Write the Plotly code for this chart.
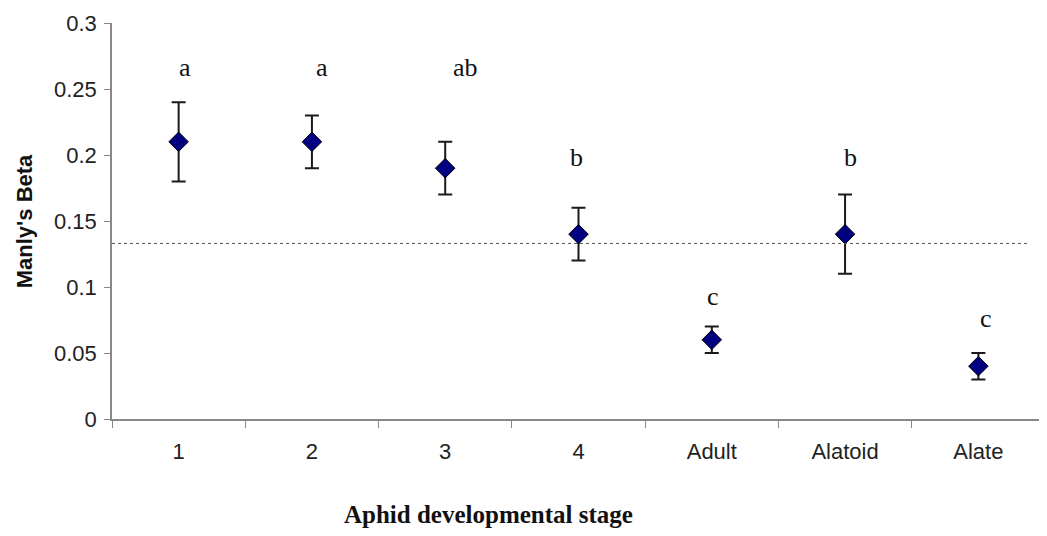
import plotly.graph_objects as go

stages = ["1", "2", "3", "4", "Adult", "Alatoid", "Alate"]
beta = [0.21, 0.21, 0.19, 0.14, 0.06, 0.14, 0.04]
err = [0.03, 0.02, 0.02, 0.02, 0.01, 0.03, 0.01]
letters = ["a", "a", "ab", "b", "c", "b", "c"]
letter_y = [0.266, 0.266, 0.266, 0.198, 0.093, 0.198, 0.076]
baseline = 0.133

# horizontal nudges (px) of the significance letters
label_dx = [6, 10, 20, -2, 1, 5, 8]

fig = go.Figure()
fig.add_trace(go.Scatter(
    x=stages, y=beta, mode="markers",
    marker=dict(symbol="diamond", size=15, color="#000080",
                line=dict(color="black", width=1)),
    error_y=dict(type="data", array=err, visible=True, color="#1a1a1a",
                 thickness=2, width=7),
    showlegend=False,
))

fig.add_shape(type="line", xref="paper", yref="y", x0=0, x1=0.981,
              y0=baseline, y1=baseline,
              line=dict(color="#555555", width=1, dash="dot"))

for i, (l, ly) in enumerate(zip(letters, letter_y)):
    fig.add_annotation(x=i, y=ly, xref="x", yref="y", text=l, showarrow=False,
                       xshift=label_dx[i], xanchor="center",
                       font=dict(family="Liberation Serif, Times New Roman, serif",
                                 size=26, color="#111111"))

fig.add_annotation(x=0.404, y=-0.24, xref="paper", yref="paper",
                   xanchor="center", yanchor="middle",
                   text="<b>Aphid developmental stage</b>", showarrow=False,
                   font=dict(family="Liberation Serif, Times New Roman, serif",
                             size=25, color="#111111"))
fig.add_annotation(x=-0.094, y=0.5, xref="paper", yref="paper",
                   xanchor="center", yanchor="middle",
                   text="<b>Manly's Beta</b>", showarrow=False, textangle=-90,
                   font=dict(family="Liberation Sans, Arial, sans-serif",
                             size=22, color="#111111"))

fig.update_layout(
    width=1047, height=536,
    margin=dict(l=104, r=10, t=15, b=125, autoexpand=False),
    plot_bgcolor="white", paper_bgcolor="white",
    xaxis=dict(
        type="category", range=[-0.5, 6.5], tickson="boundaries",
        ticks="outside", ticklen=7, tickcolor="#888888",
        showline=True, linecolor="#888888", linewidth=1.5,
        showgrid=False, zeroline=False, automargin=False,
        ticklabelstandoff=12,
        tickfont=dict(family="Liberation Sans, Arial, sans-serif", size=22, color="#222222"),
    ),
    yaxis=dict(
        range=[0, 0.3],
        ticks="outside", ticklen=6, tickcolor="#888888",
        showline=True, linecolor="#888888", linewidth=1.5,
        showgrid=False, zeroline=False, automargin=False,
        ticklabelstandoff=3,
        tickfont=dict(family="Liberation Sans, Arial, sans-serif", size=22, color="#222222"),
        tickvals=[0, 0.05, 0.1, 0.15, 0.2, 0.25, 0.3],
        ticktext=["0", "0.05", "0.1", "0.15", "0.2", "0.25", "0.3"],
    ),
)

fig.write_html("out.html")
